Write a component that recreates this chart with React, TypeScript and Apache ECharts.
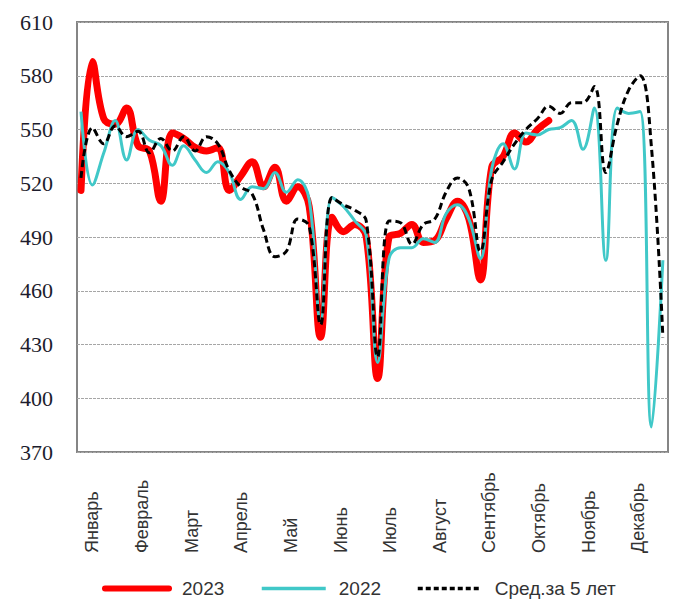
import React, { useEffect, useRef } from "react";
import * as echarts from "echarts";

const months = ["Январь", "Февраль", "Март", "Апрель", "Май", "Июнь", "Июль", "Август", "Сентябрь", "Октябрь", "Ноябрь", "Декабрь"];
const monthTickWeeks = [1.0, 5.35, 9.7, 14.05, 18.4, 22.75, 27.1, 31.45, 35.8, 40.15, 44.5, 48.85];

const s2023 = [516, 588, 556, 553, 562, 541, 538, 510, 548, 545, 540, 538, 540, 516, 524, 532, 518, 529, 510, 518, 507, 434, 501, 493, 497, 490, 411, 490, 492, 497, 487, 488, 500, 510, 500, 466, 529, 535, 548, 543, 550, 555];
const s2022 = [560, 519, 537, 555, 533, 550, 544, 541, 530, 541, 533, 526, 532, 526, 511, 518, 517, 526, 515, 522, 511, 443, 512, 507, 499, 491, 420, 478, 484, 484, 489, 487, 503, 508, 500, 478, 528, 542, 528, 548, 547, 550, 551, 555, 539, 562, 477, 562, 559, 560, 384, 477];
const sAvg5 = [523, 551, 542, 552, 546, 549, 537, 545, 538, 546, 538, 546, 542, 527, 518, 514, 494, 479, 482, 500, 496, 441, 512, 508, 505, 499, 423, 499, 498, 486, 497, 500, 515, 523, 517, 482, 522, 532, 542, 550, 556, 563, 559, 565, 565, 574, 526, 553, 572, 580, 540, 434];

const seriesNames = ["2023", "2022", "Сред.за 5 лет"];
const seriesColors = ["#ff0000", "#40c8c8", "#000000"];
const legendLefts = [97, 255, 411];
const legendLineWidths = [6, 3.5, 3.5];

const toPairs = (arr: number[]) => arr.map((v, i) => [i, v]);

export default function App() {
  const ref = useRef<HTMLDivElement>(null);
  useEffect(() => {
    if (!ref.current) return;
    const chart = echarts.init(ref.current, null, { renderer: "svg" });
    const legends = seriesNames.map((name, k) => ({
      data: [
        {
          name,
          itemStyle: { color: "rgba(0,0,0,0)", borderColor: "rgba(0,0,0,0)", borderWidth: 0 },
          lineStyle: {
            width: legendLineWidths[k],
            color: seriesColors[k],
            type: k === 2 ? [5, 3] : "solid",
            cap: k === 0 ? "round" : "butt",
          },
        },
      ],
      left: legendLefts[k],
      bottom: 2,
      itemWidth: 64,
      itemHeight: 14,
      selectedMode: false,
      textStyle: { fontFamily: "Liberation Sans", fontSize: 19, color: "#333", padding: [0, 0, 0, 8] },
    }));
    chart.setOption({
      animation: false,
      backgroundColor: "#ffffff",
      grid: {
        left: 77,
        right: 10,
        top: 22,
        bottom: 153,
        show: true,
        borderColor: "#858585",
        borderWidth: 2,
      },
      legend: legends,
      xAxis: {
        type: "value",
        min: -0.35,
        max: 51.45,
        splitLine: { show: false },
        axisLine: { show: false },
        axisTick: { show: false },
        axisLabel: {
          customValues: monthTickWeeks,
          formatter: (v: number) => {
            const idx = monthTickWeeks.findIndex((w) => Math.abs(w - v) < 1e-6);
            return idx >= 0 ? months[idx] : "";
          },
          rotate: 90,
          align: "left",
          verticalAlign: "middle",
          margin: 101,
          fontFamily: "Liberation Sans",
          fontSize: 18,
          color: "#333",
        },
      },
      yAxis: {
        type: "value",
        min: 370,
        max: 610,
        interval: 30,
        axisLine: { show: false },
        axisTick: { show: false },
        axisLabel: {
          margin: 24,
          fontFamily: "Liberation Serif",
          fontSize: 22,
          color: "#1c1c2c",
        },
        splitLine: { show: true, lineStyle: { color: "#a6a6a6", width: 1.2, type: [3, 1] } },
      },
      series: [
        {
          name: seriesNames[0],
          type: "line",
          data: toPairs(s2023),
          smooth: 0.4,
          symbol: "none",
          lineStyle: { color: seriesColors[0], width: 7, cap: "round" },
          itemStyle: { color: seriesColors[0] },
          z: 1,
        },
        {
          name: seriesNames[1],
          type: "line",
          data: toPairs(s2022),
          smooth: 0.4,
          symbol: "none",
          lineStyle: { color: seriesColors[1], width: 3 },
          itemStyle: { color: seriesColors[1] },
          z: 2,
        },
        {
          name: seriesNames[2],
          type: "line",
          data: toPairs(sAvg5),
          smooth: 0.4,
          symbol: "none",
          lineStyle: { color: seriesColors[2], width: 3, type: [7, 4] },
          itemStyle: { color: seriesColors[2] },
          z: 3,
        },
      ],
    });
    return () => chart.dispose();
  }, []);
  return (
    <div
      ref={ref}
      style={{ position: "fixed", left: 0, top: 0, width: 678, height: 605 }}
    />
  );
}
